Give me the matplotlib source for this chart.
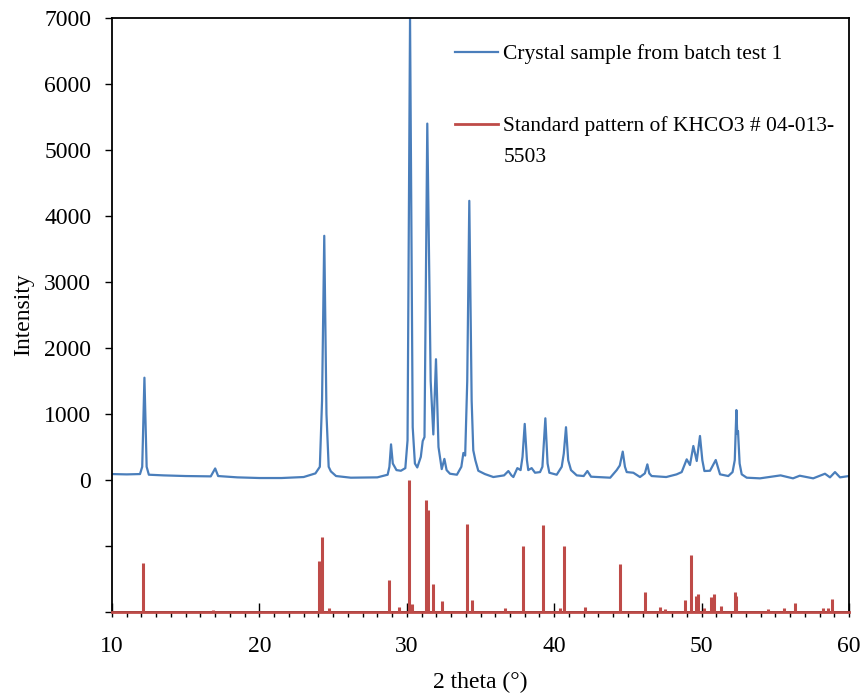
import numpy as np
import matplotlib
matplotlib.use('Agg')
import matplotlib.pyplot as plt
from matplotlib.ticker import MultipleLocator, FuncFormatter
from matplotlib.legend_handler import HandlerLine2D

plt.rcParams['font.family'] = ['Liberation Serif', 'DejaVu Serif']

sample_2theta = [10.0, 11.0, 11.9, 12.05, 12.2, 12.35, 12.5, 13.5, 15.0, 16.7, 17.0, 17.2,
                 18.5, 20.0, 21.5, 23.0, 23.8, 24.1, 24.25, 24.4, 24.55, 24.7, 24.85, 25.2,
                 26.2, 28.0, 28.7, 28.82, 28.93, 29.05, 29.3, 29.6, 29.9, 30.05, 30.22, 30.4,
                 30.55, 30.71, 30.95, 31.08, 31.2, 31.39, 31.62, 31.8, 31.98, 32.15, 32.37, 32.55,
                 32.7, 32.93, 33.4, 33.7, 33.84, 33.96, 34.1, 34.24, 34.4, 34.51, 34.65, 34.85,
                 35.3, 35.87, 36.6, 36.89, 37.1, 37.23, 37.5, 37.72, 37.85, 38.0, 38.15, 38.24,
                 38.47, 38.7, 39.04, 39.2, 39.4, 39.55, 39.67, 40.17, 40.51, 40.65, 40.8, 40.95,
                 41.14, 41.53, 42.0, 42.25, 42.5, 43.8, 44.24, 44.45, 44.65, 44.8, 44.92, 45.37,
                 45.82, 46.15, 46.32, 46.45, 46.61, 47.6, 48.3, 48.65, 48.99, 49.21, 49.44, 49.67,
                 49.89, 50.05, 50.19, 50.57, 50.96, 51.25, 51.81, 52.1, 52.25, 52.36, 52.42, 52.47,
                 52.58, 52.72, 53.06, 53.96, 55.36, 56.2, 56.66, 57.57, 58.37, 58.71, 59.05, 59.39,
                 60.0]
sample_counts = [90, 85, 90, 200, 1550, 200, 80, 70, 60, 55, 175, 60,
                 40, 30, 30, 45, 100, 200, 1200, 3700, 1000, 200, 130, 60,
                 35, 40, 80, 200, 540, 250, 150, 140, 180, 600, 7000, 800,
                 250, 190, 350, 590, 650, 5400, 1500, 690, 1830, 500, 165, 320,
                 150, 95, 80, 200, 410, 370, 1500, 4230, 1200, 450, 300, 140,
                 90, 45, 70, 136, 70, 45, 180, 150, 350, 850, 300, 150,
                 180, 110, 120, 200, 935, 250, 110, 80, 200, 400, 800, 300,
                 150, 70, 60, 136, 50, 35, 150, 220, 430, 200, 120, 110,
                 45, 100, 237, 100, 60, 45, 85, 120, 313, 227, 515, 288,
                 667, 300, 136, 140, 303, 86, 60, 120, 300, 1060, 700, 740,
                 250, 86, 35, 25, 70, 25, 65, 25, 95, 40, 120, 40,
                 60]

# standard pattern KHCO3 #04-013-5503: peak positions and relative intensity (%)
std_2theta = [12.08, 16.87, 24.07, 24.25, 24.74, 28.81, 29.49, 30.13, 30.35, 31.28, 31.46,
              31.78, 32.39, 34.08, 34.44, 36.68, 37.88, 39.24, 40.39, 40.66, 42.11, 44.46,
              46.14, 47.18, 47.54, 48.87, 49.28, 49.62, 49.76, 50.16, 50.64, 50.84, 51.34,
              52.24, 52.36, 54.48, 55.56, 56.36, 58.26, 58.55, 58.87]
std_rel = [37, 1.5, 39, 57, 3, 24, 3.5, 100, 6, 85, 77,
           21, 8, 67, 9, 3, 50, 66, 3, 50, 3.5, 36,
           15, 4, 2.5, 9, 43, 12, 14, 3, 11, 14, 4.5,
           15, 12.5, 2.5, 3, 6.5, 3, 3, 10]

std_offset = -2000   # the standard pattern sits below the sample
std_scale = 20       # 100 % -> 2000 counts

blue = '#4A7EBB'
red = '#BE4B48'

fig = plt.figure(figsize=(8.64, 6.96), dpi=100)
ax = fig.add_axes([112 / 864, 1 - 612 / 696, 737 / 864, 594 / 696])

ax.plot(sample_2theta, sample_counts, color=blue, lw=1.6,
        label='Crystal sample from batch test 1')
std_top = [std_offset + r * std_scale for r in std_rel]
ax.vlines(std_2theta, std_offset, std_top, color=red, lw=2.2, zorder=3)
ax.plot([10, 60], [std_offset, std_offset], color=red, lw=2.0, zorder=3, clip_on=False,
        label='Standard pattern of KHCO3 # 04-013-\n5503')

ax.set_xlim(10, 60)
ax.set_ylim(-2000, 7000)

ax.xaxis.set_major_locator(MultipleLocator(10))
ax.xaxis.set_minor_locator(MultipleLocator(1))
ax.xaxis.remove_overlapping_locs = False
ax.yaxis.set_major_locator(MultipleLocator(1000))
ax.yaxis.set_major_formatter(FuncFormatter(lambda v, p: '%d' % v if v >= 0 else ''))

ax.tick_params(axis='x', which='major', direction='in', length=6.5, width=1,
               labelsize=17, pad=17)
ax.tick_params(axis='x', which='minor', direction='out', length=3.5, width=1)
ax.tick_params(axis='y', which='major', direction='out', length=5, width=1,
               labelsize=17, pad=10)
for s in ax.spines.values():
    s.set_linewidth(1.3)
    s.set_color('black')

ax.set_xlabel('2 theta (°)', fontsize=17)
ax.set_ylabel('Intensity', fontsize=17)
ax.xaxis.set_label_coords(0.5, -0.1)
ax.yaxis.set_label_coords(-0.106, 0.5)


class FirstLineHandler(HandlerLine2D):
    # put the legend line level with the first line of a two-line label
    def create_artists(self, legend, orig_handle, xdescent, ydescent, width, height, fontsize, trans):
        arts = super().create_artists(legend, orig_handle, xdescent, ydescent, width, height, fontsize, trans)
        for a in arts:
            a.set_ydata(np.asarray(a.get_ydata()) + 0.77 * fontsize)
        return arts


h1, h2 = ax.get_legend_handles_labels()[0]
leg = ax.legend(handler_map={h2: FirstLineHandler()}, loc='upper left',
                bbox_to_anchor=(0.4654, 0.956), frameon=False, fontsize=15.5,
                borderpad=0, borderaxespad=0, handlelength=2.0, handletextpad=0.25,
                labelspacing=2.43)
leg.get_texts()[1].set_linespacing(1.8)

fig.savefig('out.png', dpi=100)
